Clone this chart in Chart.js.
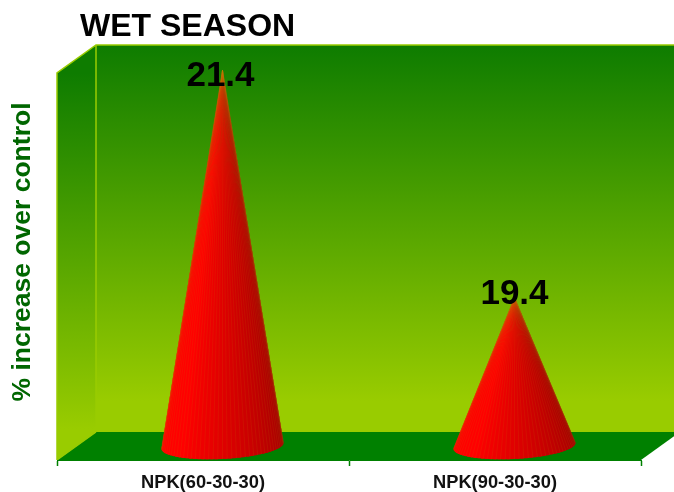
<!DOCTYPE html>
<html>
<head>
<meta charset="utf-8">
<title>Wet season</title>
<script src="https://cdn.jsdelivr.net/npm/chart.js@4/dist/chart.umd.min.js"></script>
<style>
  body { margin: 0; background: #fff; }
  canvas { display: block; }
</style>
</head>
<body>
<canvas id="grafico" width="674" height="492"></canvas>
<script>
const categorias = ['NPK(60-30-30)', 'NPK(90-30-30)'];
const valores = [21.4, 19.4];
const eixoMin = 18.09;
const eixoMax = 21.5;
const tituloGrafico = 'WET SEASON';
const tituloEixoY = '% increase over control';

// depth of the 3D box
const fundoX = 39;
const fundoY = 28;
// small shift of each value label from the cone tip
const ajusteRotulo = [[-2, 6], [0, -2.5]];

// walls and floor of the box, behind everything else
const caixa3d = {
  id: 'caixa3d',
  afterLayout(chart) {
    chart.titleBlock.left = 80;
  },
  beforeDraw(chart) {
    const ctx = chart.ctx;
    const { left, right, top, bottom } = chart.chartArea;
    const w = chart.width + fundoX;

    const gradFundo = ctx.createLinearGradient(0, top - fundoY, 0, bottom - fundoY);
    gradFundo.addColorStop(0, '#0e7c00');
    gradFundo.addColorStop(0.92, '#99cc00');
    gradFundo.addColorStop(1, '#99cc00');
    ctx.fillStyle = gradFundo;
    ctx.fillRect(left + fundoX, top - fundoY, w, bottom - top);

    const gradLado = ctx.createLinearGradient(0, top, 0, bottom);
    gradLado.addColorStop(0, '#0e7c00');
    gradLado.addColorStop(0.92, '#99cc00');
    gradLado.addColorStop(1, '#99cc00');
    ctx.fillStyle = gradLado;
    ctx.beginPath();
    ctx.moveTo(left, top);
    ctx.lineTo(left + fundoX, top - fundoY);
    ctx.lineTo(left + fundoX, bottom - fundoY);
    ctx.lineTo(left, bottom);
    ctx.closePath();
    ctx.fill();

    ctx.fillStyle = '#008000';
    ctx.beginPath();
    ctx.moveTo(left, bottom);
    ctx.lineTo(left + fundoX, bottom - fundoY);
    ctx.lineTo(right + fundoX, bottom - fundoY);
    ctx.lineTo(right, bottom);
    ctx.closePath();
    ctx.fill();

    ctx.strokeStyle = '#99cc00';
    ctx.lineWidth = 1.5;
    ctx.beginPath();
    ctx.moveTo(left, bottom);
    ctx.lineTo(left, top);
    ctx.lineTo(left + fundoX, top - fundoY);
    ctx.lineTo(w, top - fundoY);
    ctx.moveTo(left + fundoX, top - fundoY);
    ctx.lineTo(left + fundoX, bottom - fundoY);
    ctx.moveTo(left, bottom);
    ctx.lineTo(left + fundoX, bottom - fundoY);
    ctx.stroke();

    // y axis title
    ctx.save();
    ctx.translate(23, 252);
    ctx.rotate(-Math.PI / 2);
    ctx.fillStyle = '#006600';
    ctx.font = 'bold 26.5px "Liberation Sans", Arial, sans-serif';
    ctx.textAlign = 'center';
    ctx.textBaseline = 'middle';
    ctx.fillText(tituloEixoY, 0, 0);
    ctx.restore();
  }
};

function corFatia(t) {
  // t = PI is the lit left side, t = 0 the shaded right side
  const luz = Math.min(1, t / 2.3);
  const r = Math.round(155 + 100 * luz);
  return 'rgb(' + r + ',0,0)';
}

// each bar is drawn as a cone, fanned out from its tip
const cones = {
  id: 'cones',
  afterDatasetsDraw(chart) {
    const ctx = chart.ctx;
    const barras = chart.getDatasetMeta(0).data;
    const yBase = chart.scales.y.getPixelForValue(eixoMin);
    barras.forEach((barra, i) => {
      const cx = barra.x + fundoX / 2;
      const topo = barra.y - fundoY / 2;
      const cy = yBase - fundoY / 2;
      const rx = barra.width / 2;
      const ry = 13;
      const n = 44;
      const pontoBase = t => [
        cx + rx * Math.cos(t),
        cy + ry * Math.sin(t) - 3 * Math.cos(t)
      ];
      const inicio = -0.12;
      const passo = (Math.PI + 0.24) / n;

      // slices overlap a little so no wall shows through the seams
      for (let k = 0; k < n; k++) {
        const t0 = inicio + passo * k;
        const a = pontoBase(t0);
        const b = pontoBase(t0 + passo * (k < n - 1 ? 1.6 : 1));
        ctx.fillStyle = corFatia(t0 + passo / 2);
        ctx.beginPath();
        ctx.moveTo(cx, topo);
        ctx.lineTo(a[0], a[1]);
        ctx.lineTo(b[0], b[1]);
        ctx.closePath();
        ctx.fill();
      }

      // faint ribs between the slices
      ctx.strokeStyle = 'rgba(190,120,0,0.22)';
      ctx.lineWidth = 0.6;
      ctx.beginPath();
      for (let k = 1; k < n; k++) {
        const a = pontoBase(inicio + passo * k);
        ctx.moveTo(cx, topo);
        ctx.lineTo(a[0], a[1]);
      }
      ctx.stroke();

      ctx.fillStyle = '#000';
      ctx.font = 'bold 35px "Liberation Sans", Arial, sans-serif';
      ctx.textAlign = 'center';
      ctx.textBaseline = 'middle';
      ctx.fillText(valores[i].toFixed(1), cx + ajusteRotulo[i][0], topo + ajusteRotulo[i][1]);
    });
  }
};

new Chart(document.getElementById('grafico').getContext('2d'), {
  type: 'bar',
  data: {
    labels: categorias,
    datasets: [{
      data: valores,
      backgroundColor: 'rgba(0,0,0,0)',
      borderWidth: 0,
      categoryPercentage: 1,
      barPercentage: 0.418
    }]
  },
  options: {
    responsive: false,
    animation: false,
    devicePixelRatio: 1,
    layout: { padding: { left: 57, right: 33, top: 0, bottom: 0 } },
    plugins: {
      legend: { display: false },
      tooltip: { enabled: false },
      title: {
        display: true,
        text: tituloGrafico,
        align: 'start',
        color: '#000',
        font: { family: '"Liberation Sans", Arial, sans-serif', size: 32, weight: 'bold', lineHeight: 1.2 },
        padding: { top: 8, bottom: 26.6 }
      }
    },
    scales: {
      x: {
        afterFit(scale) { scale.height = 32; },
        border: { color: '#008000', width: 1 },
        grid: { drawOnChartArea: false, color: '#008000', tickColor: '#008000', tickWidth: 1.5, tickLength: 6, offset: true },
        ticks: {
          color: '#111',
          padding: 6,
          maxRotation: 0,
          font: { family: '"Liberation Sans", Arial, sans-serif', size: 18.3, weight: 'bold' }
        }
      },
      y: { display: false, min: eixoMin, max: eixoMax }
    }
  },
  plugins: [caixa3d, cones]
});
</script>
</body>
</html>
